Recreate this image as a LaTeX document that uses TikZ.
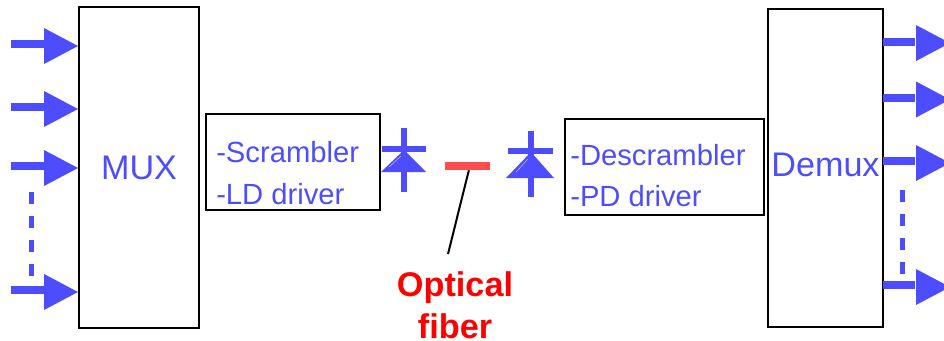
\documentclass[tikz,border=0pt]{standalone}
\usepackage{fontspec}
\setmainfont{Liberation Sans}
\usetikzlibrary{shapes.geometric}
\definecolor{sigblue}{HTML}{4D4DFF}
\definecolor{fiberred}{HTML}{FF4D4D}
\tikzset{
 blockbox/.style={draw=black,line width=1.5pt,inner sep=0pt,text=sigblue,font=\fontsize{25.6}{30}\selectfont},
 drvtext/.style={anchor=base west,inner sep=0pt,text=sigblue,font=\fontsize{21.9}{26}\selectfont},
 sigline/.style={draw=sigblue,line width=6pt},
 sigdash/.style={draw=sigblue,line width=3.75pt,dash pattern=on 9pt off 9pt},
 sighead/.style={isosceles triangle,isosceles triangle stretches,fill=sigblue,inner sep=0pt,outer sep=0pt,minimum width=27pt,minimum height=25.5pt,shape border rotate=0,anchor=apex},
}
\begin{document}
\begin{tikzpicture}[x=0.75pt,y=-0.75pt]
 \useasboundingbox (0,0) rectangle (944,340);
 \node[blockbox,minimum width=90pt,minimum height=240.75pt] (mux) at (139,167.5) {MUX}; %MUX
 \node[blockbox,minimum width=86.6pt,minimum height=238pt,text depth=4.5pt] (demux) at (825.5,168) {Demux}; %Demux
 \node[blockbox,minimum width=130.5pt,minimum height=72pt] (txbox) at (293,162) {}; %Scrambler
 \node[blockbox,minimum width=149.25pt,minimum height=71.5pt] (rxbox) at (664,167) {}; %Descrambler
 \node[drvtext] (scrambler) at (216,162) {-Scrambler};
 \node[drvtext] (lddriver) at (216,204) {-LD driver};
 \node[drvtext] (descrambler) at (570,165) {-Descrambler};
 \node[drvtext] (pddriver) at (570,206) {-PD driver};
 \foreach \n/\yl/\yh in {1/44/46,2/107/109,3/166/168,4/290/292}{
  \coordinate (in\n) at (11,\yl);
  \node[sighead] (inhead\n) at (78,\yh) {};
  \draw[sigline] (in\n) -- (in\n -| inhead\n.west);
 } %input arrows
 \foreach \n/\yl/\yh in {1/41.5/43,2/98/99.5,3/161/163,4/285/287}{
  \coordinate (out\n) at (883,\yl);
  \node[sighead] (outhead\n) at (950,\yh) {};
  \draw[sigline] (out\n) -- ([xshift=-0.75pt]out\n -| outhead\n.west);
 } %output arrows
 \coordinate (intop) at (31,192);
 \coordinate (inbot) at (31,276);
 \draw[sigdash] (intop) -- (inbot);
 \coordinate (outtop) at (902.5,190);
 \coordinate (outbot) at (902.5,274);
 \draw[sigdash] (outtop) -- (outbot);
 \fill[sigblue] (401,128) rectangle (407,192); %left diode
 \fill[sigblue] (382,146) rectangle (426,152);
 \fill[sigblue] (404,150)--(426,172)--(381,172)--cycle;
 \draw[white!75!sigblue,line width=0.3pt] (389,167)--(401,156);
 \fill[sigblue] (528,131) rectangle (534,197); %right diode
 \fill[sigblue] (508,148) rectangle (553,154);
 \fill[sigblue] (531,152)--(554,178)--(506,178)--cycle;
 \draw[white!75!sigblue,line width=0.3pt] (516,172)--(528,159);
 \node[fill=fiberred,inner sep=0pt,minimum width=33.75pt,minimum height=6pt] (fiber) at (467.5,166) {};
 \coordinate (fiberend) at (448,254);
 \draw[line width=1.5pt] ([xshift=1pt]fiber.south) -- (fiberend);
 \node[align=center,inner sep=0pt,text=red,font=\fontsize{25.7}{31.5}\selectfont\bfseries] (fiberlabel) at (455,305) {Optical\\fiber};
\end{tikzpicture}
\end{document}
